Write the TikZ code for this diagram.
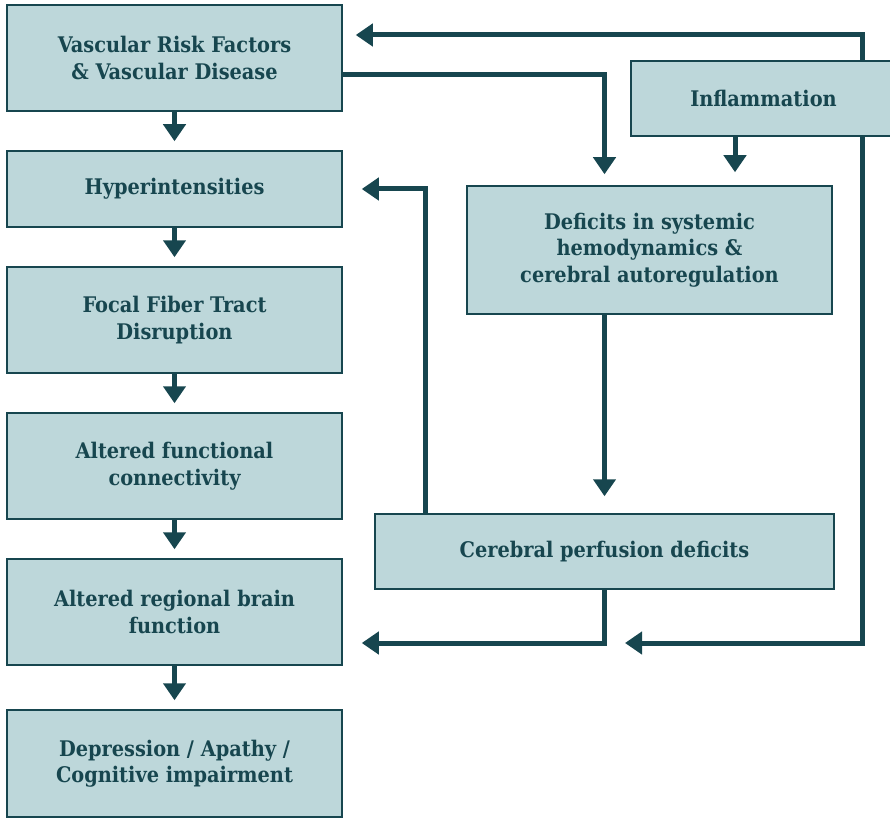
\documentclass[tikz,border=0pt]{standalone}
\usepackage{fontspec}
\setmainfont{DejaVu Serif Condensed}
\usetikzlibrary{arrows.meta}
\definecolor{boxfill}{HTML}{BDD7DA}
\definecolor{darkteal}{HTML}{17464F}
\begin{document}
\begin{tikzpicture}[x=1pt,y=-1pt,
  box/.style={draw=darkteal, line width=1.5pt, fill=boxfill, text=darkteal, align=center, inner sep=0pt,
    font=\bfseries\fontsize{21.5}{26.5}\selectfont},
  arr/.style={draw=darkteal, line width=5pt, -{Triangle[width=22pt,length=17pt]}}]
\useasboundingbox (0,0) rectangle (890,818);

\node[box, minimum width=335, minimum height=106] (vrf) at (174.5,58) {Vascular Risk Factors\\\& Vascular Disease};
\node[box, minimum width=335, minimum height=76] (hyper) at (174.5,189) {Hyperintensities};
\node[box, minimum width=335, minimum height=106] (focal) at (174.5,320) {Focal Fiber Tract\\Disruption};
\node[box, minimum width=335, minimum height=106] (func) at (174.5,466) {Altered functional\\connectivity};
\node[box, minimum width=335, minimum height=106] (regional) at (174.5,612) {Altered regional brain\\function};
\node[box, minimum width=335, minimum height=107] (depr) at (174.5,763.5) {Depression / Apathy /\\Cognitive impairment};

\node[box, minimum width=265, minimum height=75] (infl) at (763.5,98.5) {Inflammation};
\node[box, minimum width=365, minimum height=128] (deficits) at (649.5,250) {Deficits in systemic\\hemodynamics \&\\cerebral autoregulation};
\node[box, minimum width=459, minimum height=75] (perf) at (604.5,551.5) {Cerebral perfusion deficits};

\coordinate (rtop) at (862,35);
\coordinate (rbot) at (625,643);
\coordinate (vrfout) at (342,75);
\coordinate (inflx) at (735,0);
\coordinate (perfx) at (425,0);

\draw[arr, shorten >=9pt] (vrf) -- (hyper);
\draw[arr, shorten >=9pt] (hyper) -- (focal);
\draw[arr, shorten >=9pt] (focal) -- (func);
\draw[arr, shorten >=9pt] (func) -- (regional);
\draw[arr, shorten >=9pt] (regional) -- (depr);

\draw[arr, shorten >=13pt] (infl.north -| rtop) |- (vrf.east |- rtop);
\draw[arr] (infl.south -| rtop) |- (rbot);
\draw[arr, shorten >=11pt] (vrfout) -| (deficits.north -| perf.north);
\draw[arr, shorten >=13pt] (infl.south -| inflx) -- (deficits.north -| inflx);
\draw[arr, shorten >=17pt] (deficits.south -| perf.north) -- (perf.north);
\draw[arr, shorten >=19pt] (perf.north -| perfx) |- (hyper.east);
\draw[arr, shorten >=19pt] (perf.south) |- (regional.east |- rbot);

\end{tikzpicture}
\end{document}
